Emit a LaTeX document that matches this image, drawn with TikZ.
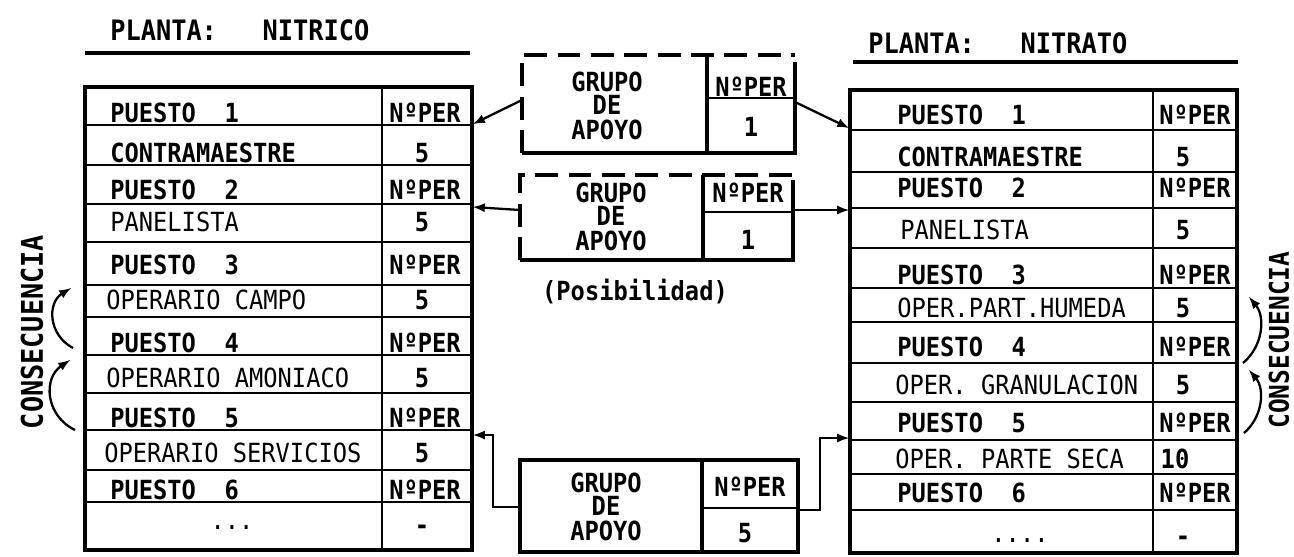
\documentclass[tikz,border=0pt]{standalone}
\usepackage{fontspec}
\newfontfamily\typfont{DejaVu Sans Mono}[FakeStretch=0.9]

\tikzset{
  lbl/.style={font=\typfont\bfseries\fontsize{15}{18}\selectfont, inner sep=0pt},
  job/.style={font=\typfont\fontsize{15}{18}\selectfont, inner sep=0pt},
  frame/.style={line width=2pt},
  rowline/.style={line width=1.3pt},
  dashframe/.style={line width=2pt, dash pattern=on 13pt off 6pt},
  link/.style={line width=1.3pt, -latex},
  grupo/.style={lbl, align=center},
}

\begin{document}
\begin{tikzpicture}[x=0.02cm, y=-0.02cm]
\useasboundingbox (0,0) rectangle (1294,556);

% -----------------------------
% Planta nitrico (left table)
% -----------------------------
\node[lbl, anchor=west, font=\typfont\bfseries\fontsize{16}{18}\selectfont] (tnitrico) at (110,30) {PLANTA:~~~NITRICO};
\draw[frame] (85,53) -- (470,53);   % title rule
\draw[frame] (85,87) rectangle (472,550);
\draw[rowline] (382,87) -- (382,550);
\foreach \y in {125,165,204,242,285,317,355,393,430,470,502} {
    \draw[rowline] (85,\y) -- (472,\y);
}
\foreach \n/\y in {1/113,2/190,3/265,4/343,5/418,6/490} {
    \node[lbl, anchor=west] (lp\n) at (110,\y) {PUESTO~~\n};
    \node[lbl] (ln\n) at (425,\y) {NºPER};
}
\node[lbl, anchor=west] (lj1) at (110,153) {CONTRAMAESTRE};
\node[job, anchor=west] (lj2) at (110,222) {PANELISTA};
\node[job, anchor=west] (lj3) at (106,300) {OPERARIO CAMPO};
\node[job, anchor=west] (lj4) at (106,378) {OPERARIO AMONIACO};
\node[job, anchor=west] (lj5) at (104,453) {OPERARIO SERVICIOS};
\node[job] (lj6) at (232,528) {...};
\foreach \n/\y in {1/153,2/222,3/300,4/378,5/453} {
    \node[lbl] (lv\n) at (422,\y) {5};
}
\node[lbl] (lv6) at (422,530) {-};

% -----------------------------
% Planta nitrato (right table)
% -----------------------------
\node[lbl, anchor=west, font=\typfont\bfseries\fontsize{16}{18}\selectfont] (tnitrato) at (868,43) {PLANTA:~~~NITRATO};
\draw[frame] (853,62) -- (1238,62);   % title rule
\draw[frame] (850,90) rectangle (1237,553);
\draw[rowline] (1153,90) -- (1153,553);
\foreach \y in {130,172,208,248,288,322,363,402,440,474,510} {
    \draw[rowline] (850,\y) -- (1237,\y);
}
\foreach \n/\y in {1/115,2/188,3/275,4/347,5/423,6/493} {
    \node[lbl, anchor=west] (rp\n) at (897,\y) {PUESTO~~\n};
    \node[lbl] (rn\n) at (1195,\y) {NºPER};
}
\node[lbl, anchor=west] (rj1) at (897,157) {CONTRAMAESTRE};
\node[job, anchor=west] (rj2) at (900,230) {PANELISTA};
\node[job, anchor=west] (rj3) at (897,308) {OPER.PART.HUMEDA};
\node[job, anchor=west] (rj4) at (895,385) {OPER. GRANULACION};
\node[job, anchor=west] (rj5) at (895,459) {OPER. PARTE SECA};
\node[job] (rj6) at (1020,541) {....};
\foreach \n/\y in {1/157,2/230,3/308,4/385} {
    \node[lbl] (rv\n) at (1183,\y) {5};
}
\node[lbl] (rv5) at (1175,459) {10};
\node[lbl] (rv6) at (1183,541) {-};

% -----------------------------
% Grupos de apoyo (middle)
% -----------------------------
% box 1 (dashed top and left)
\draw[dashframe] (522,153) -- (522,55) -- (795,55);
\draw[frame] (795,62) -- (795,153) -- (522,153);
\draw[frame] (707,55) -- (707,153);
\draw[rowline] (707,98) -- (795,98);
\node[grupo] (g1t) at (607,106) {GRUPO\\[-5pt]DE\\[-4pt]APOYO};
\node[lbl] (g1n) at (751,87) {NºPER};
\node[lbl] (g1v) at (751,127) {1};
\coordinate (g1w) at (522,100);
\coordinate (g1e) at (795,102);

% box 2 (posibilidad)
\draw[dashframe] (520,260) -- (520,175) -- (793,175);
\draw[frame] (793,180) -- (793,260) -- (520,260);
\draw[frame] (703,175) -- (703,260);
\draw[rowline] (703,212) -- (793,212);
\node[grupo] (g2t) at (611,217) {GRUPO\\[-5pt]DE\\[-4pt]APOYO};
\node[lbl] (g2n) at (748,193) {NºPER};
\node[lbl] (g2v) at (748,240) {1};
\node[lbl] (g2p) at (635,292) {(Posibilidad)};
\coordinate (g2w) at (520,210);
\coordinate (g2e) at (793,210);

% box 3
\draw[frame] (520,460) rectangle (798,552);
\draw[frame] (702,460) -- (702,552);
\draw[rowline] (702,508) -- (798,508);
\node[grupo] (g3t) at (606,507) {GRUPO\\[-5pt]DE\\[-4pt]APOYO};
\node[lbl] (g3n) at (750,487) {NºPER};
\node[lbl] (g3v) at (745,533) {5};
\coordinate (g3w) at (520,507);
\coordinate (g3e) at (798,510);

% -----------------------------
% Links to the tables
% -----------------------------
\coordinate (l1) at (473,124);
\coordinate (l2) at (473,207);
\coordinate (l3) at (473,435);
\coordinate (r1) at (849,128);
\coordinate (r2) at (849,210);
\coordinate (r3) at (849,438);
\draw[link] (g1w) -- (l1);
\draw[link] (g1e) -- (r1);
\draw[link] (g2w) -- (l2);
\draw[link] (g2e) -- (r2);
\draw[link] (g3w) -- ++(-27,0) |- (l3);
\draw[link] (g3e) -- ++(22,0) |- (r3);

% -----------------------------
% Consecuencia
% -----------------------------
\node[lbl, rotate=90, font=\typfont\bfseries\fontsize{17}{18}\selectfont] (cleft) at (32,332) {CONSECUENCIA};
\node[lbl, rotate=90, font=\typfont\bfseries\fontsize{15.5}{18}\selectfont] (cright) at (1279,340) {CONSECUENCIA};
\coordinate (ca1s) at (73,348);  \coordinate (ca1e) at (71,288);
\coordinate (ca2s) at (75,430);  \coordinate (ca2e) at (70,360);
\coordinate (cb1s) at (1243,363); \coordinate (cb1e) at (1249,297);
\coordinate (cb2s) at (1244,433); \coordinate (cb2e) at (1249,370);
\draw[link] (ca1s) to[bend left=60, looseness=1.2] (ca1e);
\draw[link] (ca2s) to[bend left=60, looseness=1.2] (ca2e);
\draw[link] (cb1s) to[bend right=45] (cb1e);
\draw[link] (cb2s) to[bend right=45] (cb2e);

\end{tikzpicture}
\end{document}
